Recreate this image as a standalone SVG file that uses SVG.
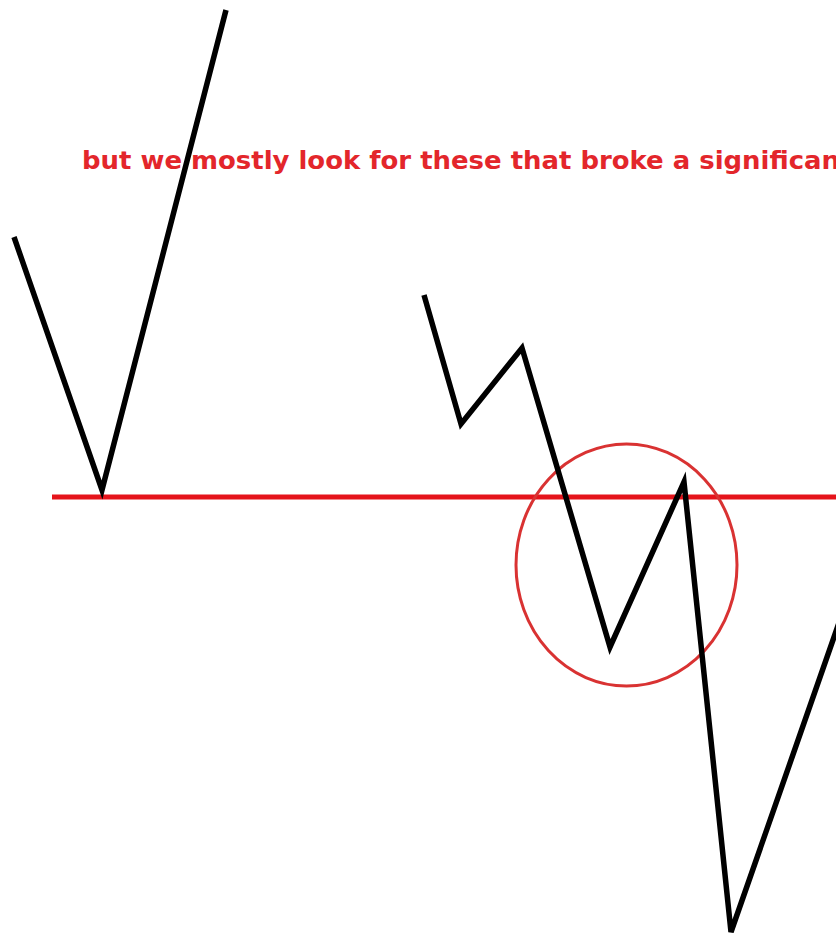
<svg xmlns="http://www.w3.org/2000/svg" width="836" height="938" viewBox="0 0 836 938">
<style>
.price{fill:none;stroke:#000;stroke-width:5.5;stroke-linejoin:miter;stroke-linecap:butt}
.lbl{font-family:"DejaVu Sans",Verdana,sans-serif;font-weight:bold;font-size:24px;fill:#e3262b}
</style>
<rect width="836" height="938" fill="#fff"/>
<g id="label"><text class="lbl" x="82" y="169" textLength="758" lengthAdjust="spacingAndGlyphs">but we mostly look for these that broke a significan</text></g>
<g id="level"><line x1="52" y1="497" x2="836" y2="497" stroke="#e5141b" stroke-width="5"/></g>
<g id="left-v"><polyline class="price" points="14,237 102,490 226,10"/></g>
<g id="highlight"><ellipse cx="626.5" cy="565" rx="110.5" ry="121" fill="none" stroke="#d93232" stroke-width="3"/></g>
<g id="zigzag"><polyline class="price" points="424,295 461,424 522,348 610,647 684,482 731,932 840,620"/></g>
</svg>
